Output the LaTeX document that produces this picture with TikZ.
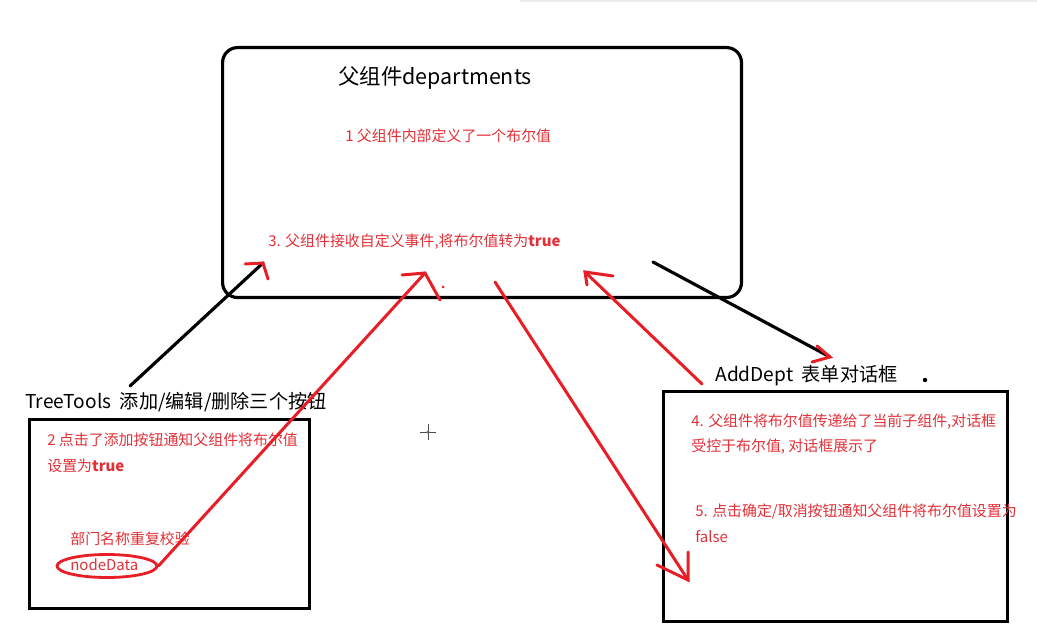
\documentclass[tikz,border=0pt]{standalone}
\usepackage{fontspec}
\setmainfont{Noto Sans CJK SC}
\usetikzlibrary{shapes.geometric}
\definecolor{inkred}{RGB}{232,30,38}
\definecolor{notered}{RGB}{226,48,56}

\tikzset{
  box/.style={draw, line width=1.8pt, anchor=north west, inner sep=0pt},
  headtext/.style={anchor=west, inner sep=0pt, font=\fontsize{10.9}{12}\selectfont},
  redtext/.style={anchor=west, inner sep=0pt, text=notered, font=\fontsize{8.5}{10}\selectfont},
  blackline/.style={line width=1.8pt, line cap=round},
  redline/.style={line width=1.7pt, line cap=round, inkred},
}

\begin{document}
\begin{tikzpicture}[x=0.02cm, y=-0.02cm]
  \useasboundingbox (0,0) rectangle (1037,641);
  % screen shadow at the top
  \fill[black!8] (520,0) rectangle (1037,2);

  % boxes
  \node[box, rounded corners=0.3cm, minimum width=10.38cm, minimum height=5cm] (parent) at (221,46) {};
  \node[box, minimum width=5.6cm, minimum height=3.78cm] (tree) at (28,418) {};
  \node[box, minimum width=6.88cm, minimum height=4.6cm] (dept) at (662,390) {};

  % titles
  \node[headtext, font=\fontsize{12.2}{14}\selectfont] (ptitle) at (338,78) {父组件departments};
  \node[headtext] (ttitle) at (25,402) {TreeTools\ \ 添加/编辑/删除三个按钮};
  \node[headtext] (dtitle) at (715,376) {AddDept\ \ 表单对话框};
  \fill (925,380) circle (2.2);

  % notes
  \node[redtext] (step1) at (345,136) {1 父组件内部定义了一个布尔值};
  \node[redtext] (step3) at (268,242) {3. 父组件接收自定义事件,将布尔值转为\textbf{true}};
  \node[redtext] (step2a) at (47,440) {2 点击了添加按钮通知父组件将布尔值};
  \node[redtext] (step2b) at (47,466) {设置为\textbf{true}};
  \node[redtext] (check) at (70,539) {部门名称重复校验};
  \node[redtext] (nodedata) at (70,565) {nodeData};
  \node[draw=inkred, line width=1.6pt, ellipse, minimum width=2cm, minimum height=0.46cm] (ring) at (107,566) {};
  \node[redtext] (step4a) at (691,422) {4. 父组件将布尔值传递给了当前子组件,对话框};
  \node[redtext] (step4b) at (691,447) {受控于布尔值, 对话框展示了};
  \node[redtext] (step5a) at (695,512) {5. 点击确定/取消按钮通知父组件将布尔值设置为};
  \node[redtext] (step5b) at (695,537) {false};

  % connector ends
  \coordinate (emitfoot) at (130,386);
  \coordinate (emittip) at (263,263);
  \coordinate (datatip) at (425,273);
  \coordinate (propfoot) at (495,282);
  \coordinate (proptip) at (688,580);
  \coordinate (closefoot) at (702,384);
  \coordinate (closetip) at (585,272);
  \coordinate (showfoot) at (653,262);
  \coordinate (showtip) at (830,357);

  % connectors
  \draw[blackline] (emitfoot) -- (emittip);
  \draw[redline] (245,264) -- (emittip) -- (268,279);
  \draw[redline] (ring.east) -- (datatip);
  \draw[redline] (402,275) -- (datatip) -- (440,300);
  \fill[inkred] (443,287) circle (1.5);
  \draw[redline] (propfoot) -- (proptip);
  \draw[redline] (657,565) -- (proptip) -- (688,552);
  \draw[redline] (closefoot) -- (closetip);
  \draw[redline] (613,276) -- (closetip) -- (587,285);
  \draw[blackline] (showfoot) -- (showtip);
  \draw[redline] (817,346) -- (showtip) -- (812,362);

  % mouse cursor
  \draw[black!70, line width=0.4pt] (420,432) -- (436,432) (428,424) -- (428,440);
  \draw[black!70, line width=0.3pt, fill=white] (428,432) circle (1.2);
\end{tikzpicture}
\end{document}
